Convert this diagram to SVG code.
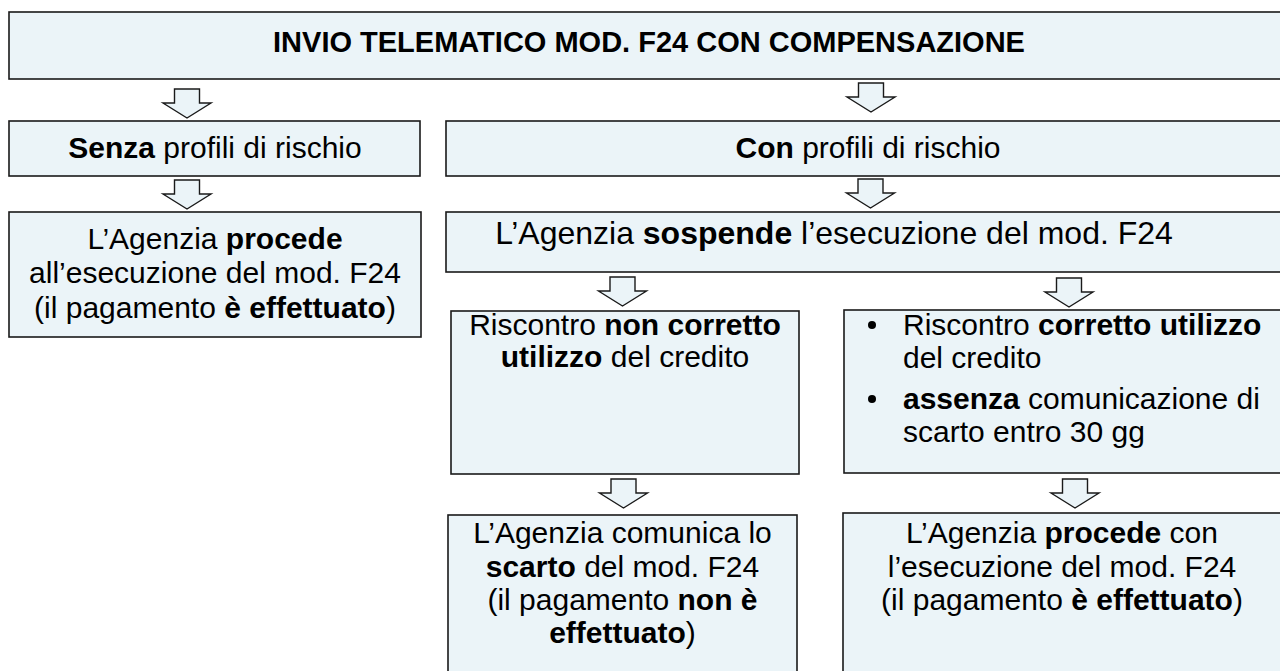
<svg xmlns="http://www.w3.org/2000/svg" width="1280" height="671" viewBox="0 0 1280 671">
<style>
.box{fill:#EBF4F8;stroke:#1a1a1a;stroke-width:1.6}
.arr{fill:#EBF4F8;stroke:#1a1a1a;stroke-width:1.4;stroke-linejoin:miter}
text{font-family:"Liberation Sans",Arial,sans-serif;font-size:30px;fill:#000}
.c{text-anchor:middle}
.b{font-weight:bold}
.t{font-size:29px;font-weight:bold}
.s{font-size:32px}
</style>
<defs>
<path id="ar" d="M-12.5,0 H12.5 V14 H24 L0,29 L-24,14 H-12.5 Z"/>
</defs>
<rect width="1280" height="671" fill="#fff"/>
<g id="connectors">
<use href="#ar" class="arr" x="187" y="89"/>
<use href="#ar" class="arr" x="871" y="83"/>
<use href="#ar" class="arr" x="187" y="180"/>
<use href="#ar" class="arr" x="870.5" y="179"/>
<use href="#ar" class="arr" x="622.5" y="277"/>
<use href="#ar" class="arr" x="1069" y="278"/>
<use href="#ar" class="arr" x="623.5" y="479"/>
<use href="#ar" class="arr" x="1075" y="479"/>
</g>
<g id="n-title">
<rect class="box" x="9" y="12" width="1285" height="67"/>
<text class="c t" x="649" y="52">INVIO TELEMATICO MOD. F24 CON COMPENSAZIONE</text>
</g>
<g id="n-senza">
<rect class="box" x="9" y="121" width="411" height="55"/>
<text class="c" x="215" y="158"><tspan class="b">Senza</tspan> profili di rischio</text>
</g>
<g id="n-con">
<rect class="box" x="446" y="121" width="845" height="55"/>
<text class="c" x="868" y="158"><tspan class="b">Con</tspan> profili di rischio</text>
</g>
<g id="n-procede1">
<rect class="box" x="9" y="212" width="412" height="125"/>
<text class="c" x="215" y="249">L’Agenzia <tspan class="b">procede</tspan></text>
<text class="c" x="215" y="283">all’esecuzione del mod. F24</text>
<text class="c" x="215" y="318">(il pagamento <tspan class="b">è effettuato</tspan>)</text>
</g>
<g id="n-sospende">
<rect class="box" x="446" y="212" width="845" height="60"/>
<text class="c s" x="834" y="244">L’Agenzia <tspan class="b">sospende</tspan> l’esecuzione del mod. F24</text>
</g>
<g id="n-noncorretto">
<rect class="box" x="451" y="311" width="348" height="163"/>
<text class="c" x="625" y="335">Riscontro <tspan class="b">non corretto</tspan></text>
<text class="c" x="625" y="367"><tspan class="b">utilizzo</tspan> del credito</text>
</g>
<g id="n-corretto">
<rect class="box" x="844" y="310" width="450" height="163"/>
<circle cx="872" cy="325" r="4"/>
<circle cx="872" cy="399" r="4"/>
<text x="903" y="335">Riscontro <tspan class="b">corretto utilizzo</tspan></text>
<text x="903" y="368">del credito</text>
<text x="903" y="409"><tspan class="b">assenza</tspan> comunicazione di</text>
<text x="903" y="442">scarto entro 30 gg</text>
</g>
<g id="n-scarto">
<rect class="box" x="448" y="515" width="349" height="170"/>
<text class="c" x="622.5" y="543">L’Agenzia comunica lo</text>
<text class="c" x="622.5" y="577"><tspan class="b">scarto</tspan> del mod. F24</text>
<text class="c" x="622.5" y="610">(il pagamento <tspan class="b">non è</tspan></text>
<text class="c" x="622.5" y="643"><tspan class="b">effettuato</tspan>)</text>
</g>
<g id="n-procede2">
<rect class="box" x="843" y="513" width="450" height="170"/>
<text class="c" x="1062" y="543">L’Agenzia <tspan class="b">procede</tspan> con</text>
<text class="c" x="1062" y="577">l’esecuzione del mod. F24</text>
<text class="c" x="1062" y="610">(il pagamento <tspan class="b">è effettuato</tspan>)</text>
</g>
</svg>
